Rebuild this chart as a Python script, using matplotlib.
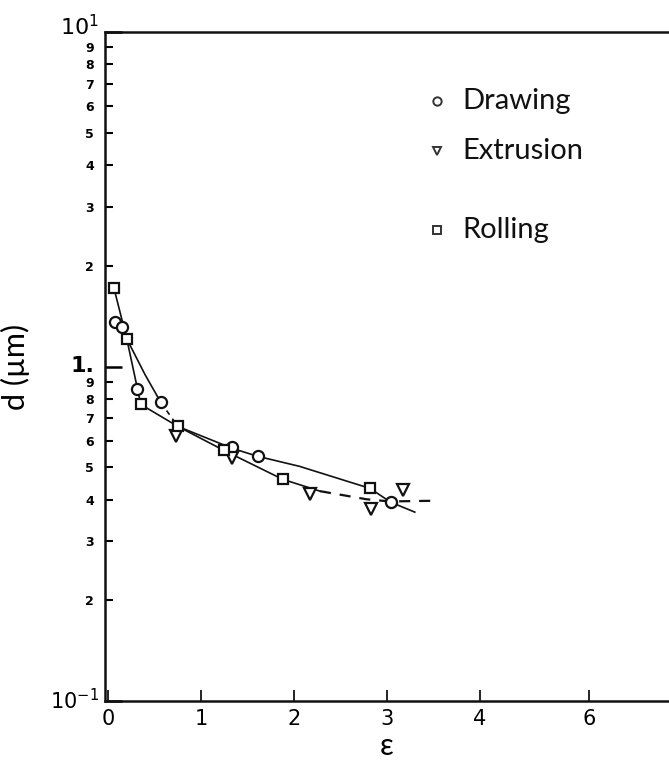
import matplotlib
matplotlib.use("Agg")
import matplotlib.pyplot as plt
import numpy as np

# ---- data ----
drawing_x = [0.075, 0.15, 0.31, 0.57, 1.34, 1.61, 3.04]
drawing_y = [1.36, 1.31, 0.854, 0.781, 0.573, 0.539, 0.393]

extrusion_x = [0.73, 1.33, 2.17, 2.83, 3.17]
extrusion_y = [0.618, 0.531, 0.415, 0.374, 0.427]

rolling_x = [0.065, 0.204, 0.355, 0.753, 1.25, 1.88, 2.82]
rolling_y = [1.72, 1.21, 0.77, 0.662, 0.561, 0.460, 0.432]

# fitted curves as drawn in the figure
fit1_x = [0.065, 0.204, 0.355, 0.753, 1.25, 1.88, 2.28]
fit1_y = [1.72, 1.21, 0.77, 0.662, 0.561, 0.460, 0.424]
fit1d_x = [2.28, 2.78, 3.03, 3.55]
fit1d_y = [0.424, 0.401, 0.395, 0.397]

fit2a_x = [0.204, 0.40, 0.57]
fit2a_y = [1.21, 0.946, 0.781]
fit2d_x = [0.57, 0.753]
fit2d_y = [0.781, 0.662]
fit2b_x = [0.753, 1.34, 1.61, 2.06, 2.82, 3.04, 3.30]
fit2b_y = [0.662, 0.569, 0.539, 0.503, 0.432, 0.393, 0.367]

xtick_pos = [0, 1, 2, 3, 4, 5.17]
xtick_lab = ["0", "1", "2", "3", "4", "6"]

major_y = [0.1, 1, 10]
major_lab = ["$10^{-1}$", "1.", "$10^{1}$"]
minor_y = [0.2, 0.3, 0.4, 0.5, 0.6, 0.7, 0.8, 0.9,
           2, 3, 4, 5, 6, 7, 8, 9]
minor_lab = ["2", "3", "4", "5", "6", "7", "8", "9"] * 2

W, H = 669, 767
fig = plt.figure(figsize=(W / 100, H / 100), dpi=100)
ax = fig.add_axes([105 / W, 1 - 701 / H, 1.0 - 105 / W, (701 - 32) / H])

ax.set_yscale("log")
ax.set_ylim(0.1, 10)
ax.set_xlim(-0.03, (669 - 108) / 93)

lc = "#111111"
lw = 1.2
ax.plot(fit1_x, fit1_y, color=lc, lw=lw)
ax.plot(fit1d_x, fit1d_y, color=lc, lw=1.6, ls=(0, (5, 4)))
ax.plot(fit2a_x, fit2a_y, color=lc, lw=lw)
ax.plot(fit2d_x, fit2d_y, color=lc, lw=lw, ls=(0, (3, 3)))
ax.plot(fit2b_x, fit2b_y, color=lc, lw=lw)

mk = dict(ls="none", mfc="white", mec=lc, mew=1.6, ms=8, zorder=3)
ax.plot(drawing_x, drawing_y, marker="o", **mk)
ax.plot(extrusion_x, extrusion_y, marker="v", **dict(mk, ms=9))
ax.plot(rolling_x, rolling_y, marker="s", **dict(mk, ms=7))

# spines
for s in ["left", "bottom", "top"]:
    ax.spines[s].set_linewidth(1.8)
    ax.spines[s].set_color(lc)
ax.spines["right"].set_visible(False)

# x ticks
ax.set_xticks(xtick_pos, xtick_lab)
ax.tick_params(axis="x", direction="in", length=8, width=1.2, labelsize=15, pad=6,
               top=False)
ax.set_xticks([], minor=True)

# y ticks
ax.set_yticks(major_y, ["", "", ""])
ax.set_yticks(minor_y, minor_lab, minor=True)
ax.tick_params(axis="y", which="major", direction="in", length=12, width=1.8,
               right=False)
ax.tick_params(axis="y", which="minor", direction="in", length=6, width=1.5,
               labelsize=9, pad=8, right=False)
for t in ax.get_yticklabels(minor=True):
    t.set_fontweight("bold")

# major y labels placed like the reference
tr = ax.get_yaxis_transform()
ax.text(-0.01, major_y[0], major_lab[0], transform=tr, ha="right", va="center",
        fontsize=15)
ax.text(-0.018, major_y[1], major_lab[1], transform=tr, ha="right", va="center",
        fontsize=16, fontweight="bold")
ax.text(-0.01, major_y[2] * 1.04, major_lab[2], transform=tr, ha="right",
        va="center", fontsize=16)

ax.set_xlabel("ε", fontsize=22, family="Lato", labelpad=2)
ax.set_ylabel("d (µm)", fontsize=22, family="Lato")
ax.yaxis.set_label_coords((30 - 105) / 564, 0.5)

# legend (manual)
leg = [("o", "Drawing", 101), ("v", "Extrusion", 151), ("s", "Rolling", 230)]
for m, lab, py in leg:
    yf = 1 - py / H
    fig.lines.append(plt.Line2D([437 / W], [yf], marker=m, ls="none", mfc="white",
                                mec="#333333", mew=1.4, ms=6,
                                transform=fig.transFigure))
    fig.text(462 / W, yf, lab, fontsize=21, family="Lato", va="center", ha="left",
             color="#111111")

fig.savefig("out.png", dpi=100, facecolor="white")
